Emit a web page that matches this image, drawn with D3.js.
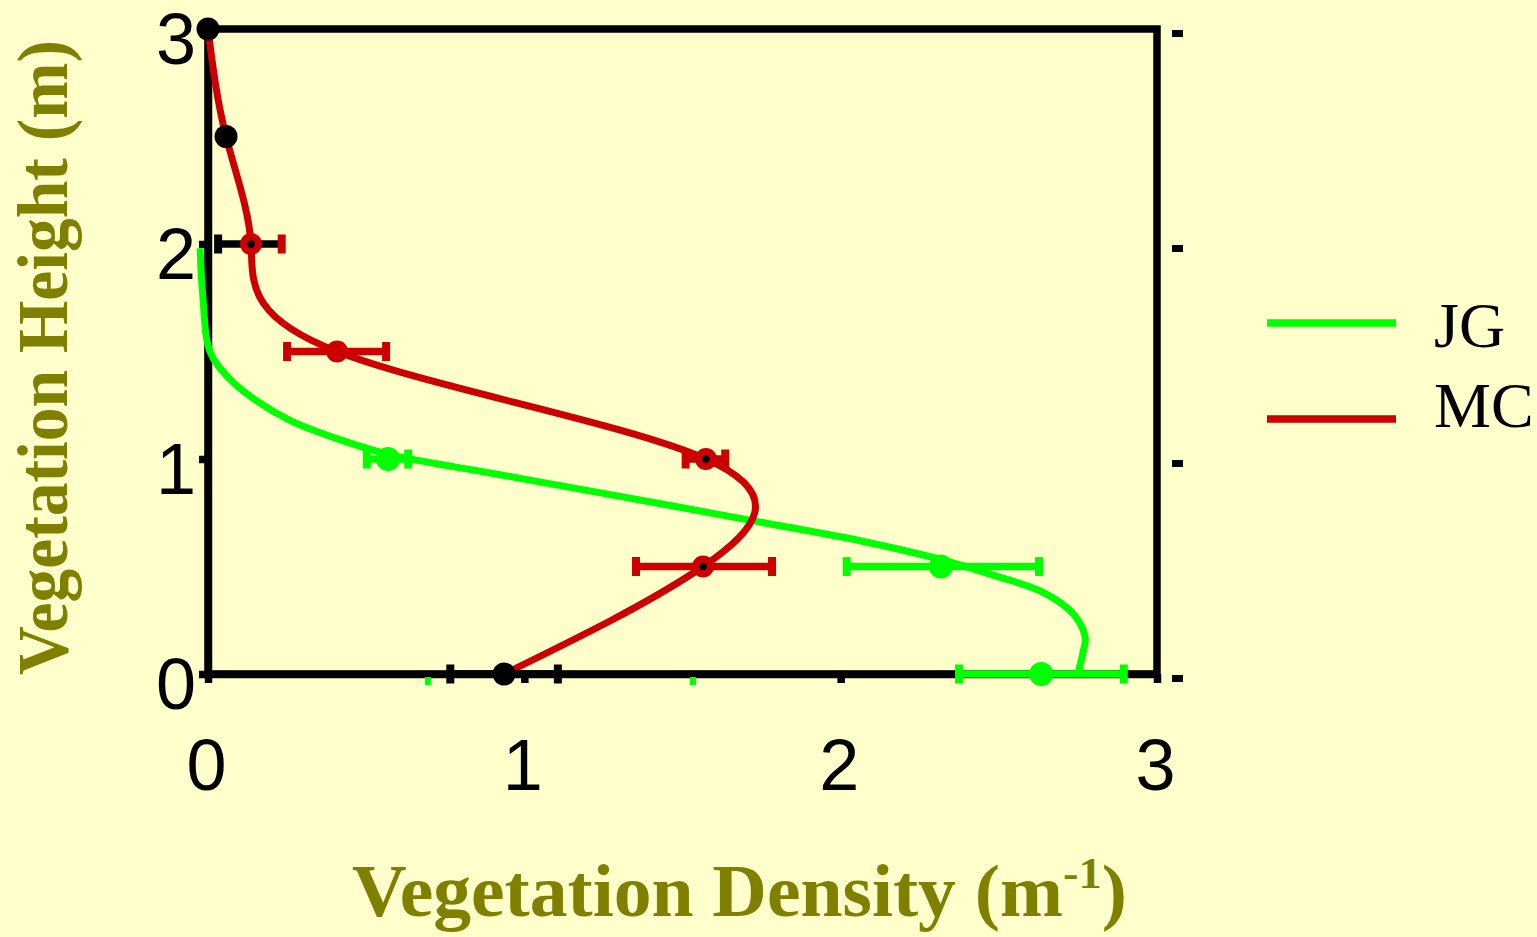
<!DOCTYPE html>
<html>
<head>
<meta charset="utf-8">
<script src="https://cdn.jsdelivr.net/npm/d3@7"></script>
<style>
  html, body { margin: 0; padding: 0; background: #ffffcc; overflow: hidden; }
  svg { display: block; }
</style>
</head>
<body>
<svg id="chart" width="1537" height="937"></svg>
<script>
// ---- data -------------------------------------------------------------
const tickValues = [0, 1, 2, 3];
const tickLabels = ["0", "1", "2", "3"];
const seriesNames = ["JG", "MC"];

// JG: measured density with error range
const jgHeight  = [0, 0.5, 1.0];
const jgDensity = [2.634, 2.317, 0.569];
const jgLow     = [2.374, 2.019, 0.502];
const jgHigh    = [2.895, 2.627, 0.633];

// JG: fitted profile
const jgFitHeight  = [0, 0.10, 0.17, 0.28, 0.38, 0.46, 0.53, 0.62, 0.70, 0.86, 0.935, 1.02, 1.09, 1.18, 1.27, 1.37, 1.50, 1.75, 1.98];
const jgFitDensity = [2.75, 2.766, 2.773, 2.735, 2.64, 2.482, 2.324, 2.061, 1.77, 1.176, 0.892, 0.575, 0.417, 0.259, 0.154, 0.07, 0.006, -0.016, -0.025];

// JG: stray marks just below the density axis
const jgStray = [0.695, 1.533];

// MC: measured density with error range (null = no bar)
const mcHeight  = [0, 0.5, 1.0, 1.5, 2.0, 2.5, 3.0];
const mcDensity = [0.936, 1.565, 1.574, 0.408, 0.136, 0.057, 0];
const mcLow     = [0.766, 1.353, 1.510, 0.250, 0.032, null, null];
const mcHigh    = [1.106, 1.783, 1.635, 0.563, 0.233, null, null];

// ---- setup ------------------------------------------------------------
const GREEN = "#00ff00", RED = "#cc0000", OLIVE = "#808000";
const svg = d3.select("#chart");
svg.append("rect").attr("width", 1537).attr("height", 937).attr("fill", "#ffffcc");

const x = d3.scaleLinear().domain([0, 3]).range([208, 1157]);
const y = d3.scaleLinear().domain([0, 3]).range([674, 29]);

// ---- frame and axes ---------------------------------------------------
svg.append("rect")
  .attr("x", x(0)).attr("y", y(3))
  .attr("width", x(3) - x(0)).attr("height", y(0) - y(3))
  .attr("fill", "none").attr("stroke", "#000").attr("stroke-width", 7.5);

const axisFont = "'Liberation Sans', Arial, sans-serif";

const gy = svg.append("g").attr("transform", `translate(${x(0)},0)`)
  .call(d3.axisLeft(y).tickValues(tickValues).tickFormat((d, i) => tickLabels[i])
    .tickSize(9).tickSizeOuter(0).tickPadding(3));
const gx = svg.append("g").attr("transform", `translate(0,${y(0)})`)
  .call(d3.axisBottom(x).tickValues(tickValues).tickFormat((d, i) => tickLabels[i])
    .tickSize(9).tickSizeOuter(0).tickPadding(56));

[gx, gy].forEach(g => {
  g.select(".domain").attr("stroke", "#000").attr("stroke-width", 7.5);
  g.selectAll(".tick line").attr("stroke", "#000").attr("stroke-width", 7.5);
  g.selectAll(".tick text").attr("fill", "#000")
    .style("font-family", axisFont).style("font-size", "72px");
});
gy.selectAll(".tick text").attr("y", 11);
gx.selectAll(".tick text").attr("dx", -2);

// detached tick marks to the right of the frame
svg.append("g").selectAll("rect").data(tickValues).join("rect")
  .attr("x", x(3) + 15).attr("y", d => y(d) + 1)
  .attr("width", 11).attr("height", 7).attr("fill", "#000");

// stray green marks under the density axis
svg.append("g").selectAll("rect").data(jgStray).join("rect")
  .attr("x", d => x(d) - 3).attr("y", y(0) + 3)
  .attr("width", 6).attr("height", 8).attr("fill", GREEN);

// ---- curves -----------------------------------------------------------
const jgFit = jgFitHeight.map((h, i) => [jgFitDensity[i], h]);
const mcPts = mcHeight.map((h, i) => [mcDensity[i], h]);

svg.append("path")
  .attr("d", d3.line().x(d => x(d[0])).y(d => y(d[1])).curve(d3.curveCatmullRom.alpha(0.5))(jgFit))
  .attr("fill", "none").attr("stroke", GREEN).attr("stroke-width", 7);

svg.append("path")
  .attr("d", d3.line().x(d => x(d[0])).y(d => y(d[1])).curve(d3.curveNatural)(mcPts))
  .attr("fill", "none").attr("stroke", RED).attr("stroke-width", 7);

// ---- error bars -------------------------------------------------------
function errorBar(g, lo, hi, h, lineColor, loCap, hiCap) {
  const cy = y(h);
  g.append("line").attr("x1", x(lo)).attr("x2", x(hi)).attr("y1", cy).attr("y2", cy)
    .attr("stroke", lineColor).attr("stroke-width", 7.5);
  g.append("rect").attr("x", x(lo) - 4).attr("y", cy - 9.5).attr("width", 8).attr("height", 19).attr("fill", loCap);
  g.append("rect").attr("x", x(hi) - 4).attr("y", cy - 9.5).attr("width", 8).attr("height", 19).attr("fill", hiCap);
}

const bars = svg.append("g");
jgHeight.forEach((h, i) => errorBar(bars, jgLow[i], jgHigh[i], h, GREEN, GREEN, GREEN));
mcHeight.forEach((h, i) => {
  if (mcLow[i] == null) return;
  if (i === 0) errorBar(bars, mcLow[i], mcHigh[i], h, "#000", "#000", "#000");
  else if (h === 2) errorBar(bars, mcLow[i], mcHigh[i], h, "#000", "#000", RED);
  else errorBar(bars, mcLow[i], mcHigh[i], h, RED, RED, RED);
});

// ---- markers ----------------------------------------------------------
const marks = svg.append("g");
marks.selectAll("circle.jg").data(jgHeight).join("circle").attr("class", "jg")
  .attr("cx", (d, i) => x(jgDensity[i])).attr("cy", d => y(d)).attr("r", 12).attr("fill", GREEN);

// MC points without a red error bar are drawn in black
const mcRed = mcHeight.map((h, i) => i > 0 && mcLow[i] != null);
marks.selectAll("circle.mc").data(mcHeight).join("circle").attr("class", "mc")
  .attr("cx", (d, i) => x(mcDensity[i])).attr("cy", d => y(d))
  .attr("r", (d, i) => mcRed[i] ? 11 : 11.5)
  .attr("fill", (d, i) => mcRed[i] ? RED : "#000");
// small black centres on the ringed MC points
marks.selectAll("circle.mcc").data(mcHeight.filter((h, i) => mcRed[i] && h !== 1.5)).join("circle")
  .attr("class", "mcc")
  .attr("cx", d => x(mcDensity[mcHeight.indexOf(d)])).attr("cy", d => y(d))
  .attr("r", 3.8).attr("fill", "#000");

// ---- legend -----------------------------------------------------------
const legendY = [323, 419];
const legendText = [347, 427];
const legend = svg.append("g");
seriesNames.forEach((name, i) => {
  legend.append("line").attr("x1", 1267).attr("x2", 1396)
    .attr("y1", legendY[i]).attr("y2", legendY[i])
    .attr("stroke", i === 0 ? GREEN : RED).attr("stroke-width", 7.5);
  legend.append("text").attr("x", 1434).attr("y", legendText[i])
    .style("font-family", "'Liberation Serif', 'Times New Roman', serif")
    .style("font-size", "64px").attr("fill", "#000").text(name);
});

// ---- axis titles ------------------------------------------------------
const titleFont = "'Liberation Serif', 'Times New Roman', serif";

function fitWidth(sel, target) {
  const w = sel.node().getBBox().width;
  return target / w;
}

const xt = svg.append("text")
  .style("font-family", titleFont).style("font-weight", "bold").style("font-size", "73px")
  .attr("fill", OLIVE);
xt.append("tspan").text("Vegetation Density (m");
xt.append("tspan").attr("dy", -28).style("font-size", "45px").text("-1");
xt.append("tspan").attr("dy", 28).text(")");
const sx = fitWidth(xt, 775);
xt.attr("transform", `translate(352,916) scale(${sx},1)`);

const yt = svg.append("text")
  .style("font-family", titleFont).style("font-weight", "bold").style("font-size", "71px")
  .attr("fill", OLIVE).text("Vegetation Height (m)");
const sy = fitWidth(yt, 635);
yt.attr("transform", `translate(67,675) rotate(-90) scale(${sy},1)`);
</script>
</body>
</html>
